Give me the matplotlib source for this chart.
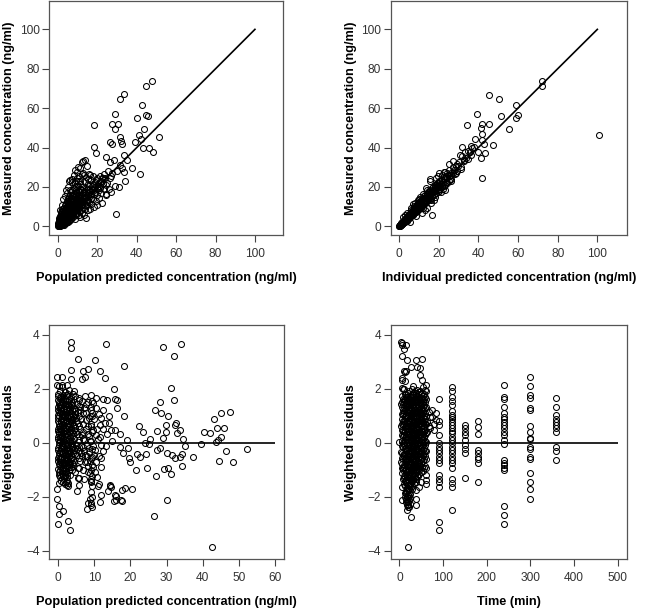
import numpy as np
import matplotlib
matplotlib.use('Agg')
import matplotlib.pyplot as plt
from matplotlib import rcParams
rcParams['font.family'] = 'sans-serif'
rcParams['font.sans-serif'] = ['Liberation Sans']

# population predicted vs measured concentration (ng/ml)
pop_pred_obs = [
    (47.5, 73.8), (44.5, 71.3), (33.7, 67.1), (31.6, 64.5), (42.8, 61.8), (28.8, 56.9), (44.5, 56.4),
    (45.5, 56.1), (39.9, 55.2), (18.3, 51.2), (27.4, 52.2), (30.6, 52.2), (29.1, 49.5), (43.7, 49.5),
    (51.4, 45.6), (31.6, 45.1), (31.8, 43.4), (41.3, 46.5), (42.3, 44.3), (32.3, 41.9), (26.2, 42.6),
    (27.4, 41.7), (39.1, 42.6), (18.1, 40.4), (19.4, 37.0), (43.3, 39.7), (46.0, 39.7), (48.1, 37.5),
    (37.4, 29.6), (41.6, 26.5), (29.4, 6.4), (34.2, 23.1), (33.4, 36.1), (34.9, 33.8), (12.9, 33.3),
    (12.0, 32.6), (10.0, 29.9), (24.4, 35.0), (26.4, 32.9), (28.6, 33.8), (23.0, 24.5), (31.0, 19.9),
    (28.9, 20.3), (24.4, 16.2), (21.3, 19.4), (26.4, 24.5), (27.6, 27.0), (31.5, 31.3), (32.3, 29.6),
    (33.5, 27.4), (29.8, 27.9), (21.1, 25.3), (16.2, 26.2), (12.5, 27.0), (8.6, 28.7), (6.3, 23.6),
    (9.1, 23.1),
    (0.1, 0.2), (0.2, 0.5), (0.3, 0.9), (0.4, 0.3), (0.5, 1.2), (0.6, 0.6), (0.7, 1.8), (0.8, 0.4),
    (0.9, 2.4), (1.0, 1.0), (1.1, 1.5), (1.2, 3.0), (1.3, 0.8), (1.4, 2.0), (1.5, 3.6), (1.6, 1.2),
    (1.7, 2.6), (1.8, 4.2), (1.9, 0.9), (2.0, 1.8), (2.1, 3.2), (2.2, 4.8), (2.3, 2.2), (2.4, 1.4),
    (2.5, 3.9), (2.6, 5.5), (2.7, 2.8), (2.8, 1.9), (2.9, 4.5), (3.0, 6.2), (3.1, 3.3), (3.2, 2.4),
    (3.3, 5.0), (3.4, 7.0), (3.5, 3.8), (3.6, 2.8), (3.7, 5.8), (3.8, 7.8), (3.9, 4.4), (4.0, 3.2),
    (4.2, 6.5), (4.4, 8.6), (4.5, 5.0), (4.6, 3.7), (4.8, 7.2), (5.0, 9.5), (5.1, 5.6), (5.2, 4.2),
    (5.4, 8.0), (5.5, 10.4), (5.6, 6.3), (5.8, 4.8), (6.0, 8.8), (6.1, 11.3), (6.2, 7.0), (6.4, 5.4),
    (6.5, 9.6), (6.7, 12.2), (6.8, 7.7), (7.0, 6.0), (7.1, 10.4), (7.3, 13.1), (7.4, 8.4), (7.6, 6.6),
    (7.7, 11.2), (7.9, 14.0), (8.0, 9.1), (8.2, 7.2), (8.3, 12.0), (8.5, 15.0), (8.6, 9.8), (8.8, 7.8),
    (9.0, 12.8), (9.1, 16.0), (9.2, 10.5), (9.4, 8.4), (9.6, 13.6), (9.8, 17.0), (9.9, 11.2), (10.0, 9.0),
    (10.3, 14.4), (10.5, 18.0), (10.6, 12.0), (10.8, 9.6), (11.0, 15.2), (11.2, 19.0), (11.3, 12.8),
    (11.5, 10.2), (11.8, 16.0), (12.0, 20.0), (12.1, 13.6), (12.3, 10.8), (12.6, 17.0), (12.8, 14.4),
    (0.5, 4.0), (1.0, 5.2), (1.5, 6.5), (2.0, 7.5), (2.5, 8.6), (3.0, 9.5), (3.5, 10.6), (4.0, 12.0),
    (4.5, 13.0), (5.0, 14.0), (5.5, 15.2), (6.0, 16.0), (6.5, 17.2), (7.0, 18.5), (3.5, 15.2), (4.5, 17.0),
    (5.5, 22.8), (6.0, 18.5), (7.0, 24.0), (8.0, 19.5), (8.5, 22.0), (9.0, 20.5), (9.5, 24.5), (10.0, 23.0),
    (11.0, 21.5), (12.0, 26.5), (13.0, 26.2), (13.5, 22.8), (14.0, 25.0), (15.0, 21.5), (15.5, 24.0),
    (16.0, 26.5), (17.0, 23.5), (17.5, 20.5), (18.0, 25.5), (19.0, 22.5), (20.0, 24.5), (21.0, 20.5),
    (22.0, 23.0), (23.0, 21.5), (24.0, 24.5), (25.0, 22.0), (13.0, 18.0), (14.0, 19.5), (15.0, 17.0),
    (16.0, 18.5), (17.0, 16.5), (18.0, 19.0), (19.0, 17.5), (20.0, 16.0), (21.0, 18.5), (22.0, 17.0),
    (14.0, 15.0), (15.5, 13.5), (16.5, 15.5), (18.0, 14.0), (19.5, 13.0), (21.0, 14.5), (17.0, 11.5),
    (18.5, 10.0), (20.0, 11.0), (16.0, 12.5), (14.5, 11.0), (13.5, 9.0), (15.0, 8.5), (12.0, 7.0),
    (10.5, 6.0), (9.0, 5.5), (7.5, 4.5), (6.0, 3.0), (5.0, 2.2), (4.0, 1.5), (3.0, 0.9), (13.0, 5.5),
    (14.0, 4.2), (11.0, 4.5), (8.5, 3.5), (16.5, 9.0), (22.5, 12.0), (24.5, 16.0), (26.0, 19.0),
    (27.0, 17.5), (25.5, 28.0), (27.0, 25.5), (23.5, 26.5), (14.5, 30.5), (13.5, 33.5), (11.0, 29.5),
    (8.0, 26.0), (9.5, 27.5), (10.5, 25.5), (7.0, 22.5), (5.0, 20.0), (4.0, 18.5), (2.5, 14.0),
    (2.0, 11.0), (1.0, 8.5),
    (0.3, 0.5), (0.6, 1.4), (0.9, 0.9), (1.2, 2.2), (1.5, 1.6), (1.8, 2.9), (2.1, 2.2), (2.4, 3.5),
    (2.7, 4.1), (3.0, 3.0), (3.3, 4.4), (3.6, 5.2), (3.9, 3.9), (4.2, 5.6), (4.5, 6.6), (4.8, 5.0),
    (5.1, 7.0), (5.4, 6.0), (5.7, 8.4), (6.0, 7.2), (6.3, 9.1), (6.6, 8.2), (6.9, 10.0), (7.2, 9.2),
    (7.5, 7.5), (7.8, 10.5), (8.1, 11.2), (8.4, 8.8), (8.7, 12.6), (9.0, 10.8), (9.3, 14.0), (9.6, 9.9),
    (9.9, 13.1), (10.2, 11.4), (10.5, 16.1), (10.8, 13.2), (11.1, 17.2), (11.4, 14.3), (11.7, 11.9),
    (12.0, 15.5), (12.4, 18.5), (12.8, 12.5), (13.2, 16.0), (13.6, 14.0), (14.0, 17.5), (14.5, 13.0),
    (15.0, 19.0), (15.5, 16.0), (16.0, 20.5), (16.5, 17.5), (17.0, 14.0), (17.5, 18.5), (18.0, 21.5),
    (18.5, 16.5), (19.0, 20.0), (19.5, 23.5), (20.0, 19.5), (20.5, 21.5), (21.5, 22.5), (22.5, 24.5),
    (23.5, 19.0), (24.5, 21.0), (2.0, 6.0), (3.0, 7.8), (4.0, 9.8), (5.0, 11.8), (6.0, 13.5), (7.0, 15.5),
    (8.0, 17.0), (9.0, 18.5), (10.0, 20.5), (11.0, 23.0), (1.5, 0.5), (2.5, 0.8), (3.5, 1.5), (4.5, 2.0),
    (5.5, 2.8), (6.5, 3.6), (7.5, 5.5), (8.5, 6.2), (9.5, 7.0), (10.5, 7.8), (11.5, 8.5), (12.5, 9.2),
    (13.5, 11.0), (14.5, 12.5), (0.2, 1.5), (0.4, 2.6), (0.6, 3.2), (0.8, 0.2), (1.1, 4.0), (1.3, 6.0),
    (2.2, 9.0), (1.7, 7.5),
    (0.5, 0.9), (1.0, 1.8), (1.5, 2.4), (2.0, 3.0), (2.5, 3.4), (3.0, 4.0), (3.5, 4.8), (4.0, 5.5),
    (4.5, 6.0), (5.0, 6.8), (5.5, 7.5), (6.0, 8.2), (6.5, 8.8), (7.0, 9.5), (7.5, 10.2), (8.0, 10.8),
    (8.5, 11.5), (9.0, 12.0), (9.5, 12.5), (10.0, 13.5), (0.7, 0.2), (1.2, 0.6), (1.7, 1.0), (2.2, 1.2),
    (2.7, 1.8), (3.2, 2.0), (3.7, 2.3), (4.2, 2.6), (4.7, 3.0), (5.2, 3.6), (5.7, 4.0), (6.2, 4.5),
    (6.7, 5.0), (7.2, 5.5), (7.7, 6.0), (1.0, 3.4), (1.5, 4.6), (2.0, 5.4), (2.5, 6.4), (3.0, 7.0),
    (3.5, 8.2), (4.0, 8.8), (4.5, 10.0), (5.0, 10.8), (5.5, 12.0), (6.0, 12.8), (6.5, 14.0), (7.0, 14.5),
    (7.5, 16.0), (8.0, 14.8), (4.3, 4.3), (5.3, 5.2), (6.3, 6.3), (7.3, 7.0), (8.3, 8.0), (9.3, 9.0),
    (10.3, 10.5), (11.3, 11.2), (12.3, 12.3),
]

# individual predicted vs measured concentration (ng/ml)
ind_pred_obs = [
    (72.1, 73.8), (72.3, 71.3), (101.0, 46.3), (58.8, 61.7), (60.2, 56.4), (58.8, 55.2), (51.6, 55.9),
    (50.4, 64.4), (45.4, 66.9), (39.2, 56.9), (34.5, 51.2), (45.4, 52.0), (41.8, 52.0), (41.5, 49.7),
    (55.5, 49.2), (42.0, 46.8), (41.8, 43.9), (38.2, 44.3), (36.5, 41.0), (47.2, 41.4), (43.0, 41.9),
    (40.0, 37.5), (43.3, 37.0), (41.3, 34.6), (41.8, 24.3), (27.4, 33.3), (31.9, 40.5), (33.4, 37.5),
    (30.9, 36.3), (29.2, 31.9), (25.2, 31.8), (22.5, 27.4), (20.2, 27.0), (15.6, 24.2), (16.8, 5.9),
    (36.1, 36.0), (35.0, 34.1), (32.6, 33.8), (28.7, 30.4), (31.3, 29.1), (27.1, 27.0), (23.7, 25.3),
    (26.1, 22.8), (21.8, 23.6), (18.7, 21.1), (23.4, 18.6), (19.8, 18.2),
    (0.1, 0.1), (0.2, 0.4), (0.3, 0.2), (0.4, 0.6), (0.5, 0.3), (0.6, 0.9), (0.7, 0.5), (0.8, 1.1),
    (0.9, 0.7), (1.0, 1.3), (1.1, 0.9), (1.2, 1.5), (1.3, 1.0), (1.4, 1.8), (1.5, 1.2), (1.6, 2.0),
    (1.7, 1.4), (1.8, 2.3), (1.9, 1.6), (2.0, 2.5), (2.2, 1.8), (2.3, 2.9), (2.5, 2.1), (2.6, 3.2),
    (2.8, 2.4), (2.9, 3.5), (3.0, 2.6), (3.2, 3.8), (3.3, 2.9), (3.5, 4.2), (3.6, 3.1), (3.8, 4.5),
    (3.9, 3.4), (4.1, 4.9), (4.2, 3.6), (4.4, 5.2), (4.5, 3.9), (4.7, 5.6), (4.8, 4.2), (5.0, 6.0),
    (5.1, 4.4), (5.3, 6.3), (5.4, 4.7), (5.6, 6.7), (5.7, 5.0), (5.9, 7.0), (6.0, 5.2), (6.2, 7.4),
    (6.3, 5.5), (6.5, 7.8), (6.6, 5.8), (6.8, 8.1), (6.9, 6.0), (7.1, 8.5), (7.2, 6.3), (7.4, 8.9),
    (7.5, 6.6), (7.7, 9.2), (7.8, 6.8), (8.0, 9.6), (8.1, 7.1), (8.3, 10.0), (8.4, 7.4), (8.6, 10.3),
    (8.7, 7.6), (8.9, 10.7), (9.0, 7.9), (9.2, 11.0), (9.3, 8.2), (9.5, 11.4), (9.6, 8.5), (9.8, 11.8),
    (10.0, 8.8), (10.2, 12.2), (10.4, 9.2), (10.6, 12.7), (10.8, 9.6), (11.0, 13.1), (11.2, 10.0),
    (11.4, 13.6), (11.6, 10.4), (11.8, 14.0), (12.0, 10.8), (12.3, 14.6), (12.5, 11.3), (12.8, 15.2),
    (13.0, 11.8), (13.3, 15.8), (13.6, 12.3), (13.9, 16.5), (14.2, 12.8), (14.5, 17.2), (14.8, 13.4),
    (15.1, 17.8), (15.4, 14.0), (15.7, 18.5), (16.0, 14.6), (16.4, 19.3), (16.8, 15.3), (17.2, 20.2),
    (17.6, 16.0), (18.0, 21.0), (18.5, 16.8), (19.0, 22.0), (19.5, 17.6), (20.0, 23.0),
    (2.0, 2.0), (3.0, 3.1), (4.0, 4.0), (5.0, 5.1), (6.0, 6.2), (7.0, 7.0), (8.0, 8.1), (9.0, 9.2),
    (10.0, 10.3), (11.0, 11.2), (12.0, 12.5), (13.0, 13.4), (14.0, 14.6), (15.0, 15.5), (16.0, 16.8),
    (17.0, 17.6), (18.0, 18.5), (19.0, 19.8), (20.0, 20.4), (21.0, 21.5), (22.0, 22.3), (23.0, 23.8),
    (24.0, 24.5), (25.0, 25.6), (26.0, 26.2),
    (3.0, 6.0), (5.5, 2.3), (7.0, 11.5), (8.5, 5.0), (10.5, 15.0), (11.5, 7.0), (13.5, 19.5), (14.0, 9.5),
    (15.5, 23.0), (16.0, 11.8), (17.5, 13.2), (18.5, 24.5), (19.5, 25.5), (20.5, 19.0), (21.5, 26.0),
    (22.5, 20.5), (23.0, 27.5), (24.0, 22.0), (25.0, 28.5), (26.0, 24.0), (27.0, 30.0), (28.0, 26.5),
    (29.0, 28.0), (30.0, 32.5), (31.0, 30.0), (32.0, 35.5), (33.0, 33.0), (34.0, 34.5), (35.0, 38.0),
    (36.0, 37.5), (37.0, 40.0), (38.0, 40.5), (21.0, 17.5), (22.0, 18.8), (23.0, 21.0), (24.0, 27.0),
    (25.0, 23.0), (18.0, 19.8), (20.0, 18.0), (7.5, 10.5), (9.5, 13.5), (12.0, 16.5), (4.0, 7.0),
    (6.0, 9.5), (2.0, 4.5), (13.0, 8.5),
    (0.5, 0.6), (1.0, 0.8), (1.5, 1.7), (2.0, 1.5), (2.5, 2.8), (3.0, 3.5), (3.5, 3.3), (4.0, 4.6),
    (4.5, 4.3), (5.0, 5.5), (5.5, 5.2), (6.0, 6.6), (6.5, 6.3), (7.0, 7.6), (7.5, 7.3), (8.0, 8.7),
    (8.5, 8.3), (9.0, 9.8), (9.5, 9.3), (10.0, 10.9), (10.5, 10.2), (11.0, 11.9), (11.5, 11.4),
    (12.0, 13.1), (12.5, 12.4), (13.0, 14.2), (13.5, 13.6), (14.0, 15.2), (14.5, 14.8), (15.0, 16.4),
    (15.5, 15.9), (16.0, 17.5), (16.5, 16.9), (17.0, 18.6), (17.5, 18.0), (18.0, 19.8), (18.5, 19.2),
    (19.0, 20.8), (19.5, 20.2), (20.0, 21.8), (20.5, 21.0), (21.5, 20.5), (22.5, 24.5), (23.5, 22.5),
    (24.5, 26.0), (25.5, 24.0), (26.5, 27.5), (27.5, 28.5), (28.5, 27.0), (29.5, 30.5), (8.0, 12.0),
    (10.0, 14.0), (12.0, 9.5), (14.0, 18.5), (16.0, 13.5), (18.0, 15.0), (6.0, 8.5), (4.0, 2.5),
]

# population predicted concentration vs weighted residuals
pop_pred_wres = [
    (13.2, 3.64), (29.1, 3.54), (34.1, 3.64), (32.1, 3.22), (18.3, 2.83), (31.1, 2.04), (32.1, 1.60),
    (28.2, 1.52), (26.8, 1.21), (28.4, 1.11), (30.5, 1.00), (44.9, 1.09), (47.5, 1.12), (43.2, 0.88),
    (45.9, 0.54), (44.0, 0.56), (40.4, 0.38), (41.9, 0.35), (44.9, 0.21), (44.1, 0.10), (43.7, 0.01),
    (39.6, -0.05), (52.1, -0.22), (46.4, -0.32), (48.3, -0.73), (44.5, -0.67), (37.2, -0.54),
    (34.2, -0.86), (34.3, -0.41), (35.0, -0.11), (34.6, 0.12), (32.9, 0.35), (32.2, 0.67), (32.7, 0.72),
    (33.6, 0.47), (29.7, 0.65), (29.7, 0.40), (28.9, 0.19), (27.3, 0.43), (25.4, 0.12), (25.0, -0.05),
    (24.0, 0.00), (22.5, 0.62), (23.6, 0.41), (27.4, -0.27), (28.2, -0.21), (30.0, -0.40), (31.4, -0.46),
    (32.3, -0.58), (33.7, -0.52), (29.4, -0.99), (30.3, -0.93), (31.3, -1.17), (27.1, -1.22),
    (24.5, -0.94), (21.4, -1.02), (22.6, -0.52), (21.7, -0.42), (24.3, -0.42), (30.0, -2.12),
    (26.4, -2.73), (42.5, -3.85), (20.3, -1.73), (18.5, -1.69), (17.7, -1.77), (17.6, -2.15),
    (16.1, -1.96), (15.6, -2.17), (14.4, -1.60), (13.7, -1.78), (11.8, -1.94), (11.6, -2.19),
    (20.0, -0.73), (19.7, -0.58), (18.0, -0.40), (19.4, -0.21), (17.1, -0.15), (19.0, 0.10),
    (17.1, 0.32), (15.7, 0.47), (18.3, 1.00), (16.3, 1.27), (15.5, 1.99), (15.7, 1.63), (16.2, 1.58),
    (14.0, 0.74), (14.1, 0.99), (13.4, 1.58), (12.3, 1.62), (13.0, 2.38), (11.7, 2.67), (10.2, 3.05),
    (5.6, 3.09), (6.8, 2.67), (8.2, 2.73), (7.5, 2.44), (6.7, 2.36), (3.5, 3.72), (3.6, 3.52),
    (3.7, 2.69), (3.5, 2.35), (-0.4, 2.43), (1.2, 2.43), (1.1, 2.15), (-0.3, 2.14), (1.9, 1.86),
    (3.2, -3.23), (2.7, -2.90), (0.1, -3.01), (0.4, -2.64), (1.4, -2.53), (0.4, -2.35), (-0.2, -2.07),
    (-0.4, -1.73), (5.3, -1.79), (2.6, -1.42), (2.0, -1.20), (8.4, -2.25), (8.1, -2.47), (8.8, -2.07),
    (9.2, -2.31), (16.0, -2.14), (17.5, -2.14), (15.8, -1.94), (14.4, -1.57), (14.6, -1.63),
    (0.2, 2.10), (1.0, 2.05), (2.4, 2.12), (0.5, 1.92), (1.8, 1.88), (3.0, 1.95), (4.5, 1.90),
    (0.1, 1.72), (0.9, 1.68), (2.2, 1.75), (3.6, 1.70), (5.8, 1.66), (7.5, 1.72),
    (0.4, 1.52), (1.4, 1.48), (2.6, 1.55), (4.0, 1.50), (5.2, 1.45), (6.5, 1.53), (8.3, 1.50), (9.6, 1.46),
    (0.0, 1.32), (0.8, 1.28), (1.9, 1.35), (3.1, 1.30), (4.4, 1.26), (6.0, 1.33), (7.2, 1.29), (9.0, 1.31),
    (10.5, 1.27), (0.3, 1.12), (1.2, 1.08), (2.3, 1.14), (3.5, 1.10), (4.8, 1.06), (5.5, 1.13), (7.8, 1.09),
    (9.4, 1.11), (11.2, 1.07), (0.1, 0.92), (0.7, 0.88), (1.6, 0.94), (2.8, 0.90), (3.9, 0.86), (5.0, 0.93),
    (6.3, 0.89), (8.5, 0.91), (10.0, 0.87), (12.0, 0.93), (0.4, 0.72), (1.1, 0.68), (2.0, 0.74), (3.2, 0.70),
    (4.3, 0.66), (5.6, 0.73), (7.0, 0.69), (9.1, 0.71), (11.5, 0.67), (13.0, 0.72), (0.0, 0.52), (0.8, 0.48),
    (1.5, 0.54), (2.5, 0.50), (3.6, 0.46), (4.7, 0.53), (6.1, 0.49), (7.6, 0.51), (9.8, 0.47), (12.5, 0.52),
    (14.5, 0.48), (0.3, 0.32), (1.0, 0.28), (1.9, 0.34), (2.9, 0.30), (4.0, 0.26), (5.3, 0.33), (6.6, 0.29),
    (8.2, 0.31), (10.4, 0.27), (13.6, 0.33), (0.1, 0.12), (0.6, 0.08), (1.4, 0.14), (2.3, 0.10), (3.3, 0.06),
    (4.5, 0.13), (5.8, 0.09), (7.3, 0.11), (8.9, 0.07), (11.0, 0.12), (15.0, 0.08), (0.4, -0.08),
    (1.1, -0.12), (2.0, -0.06), (2.8, -0.10), (3.8, -0.14), (5.0, -0.07), (6.4, -0.11), (7.9, -0.09),
    (9.6, -0.13), (11.8, -0.08), (13.2, -0.12), (0.0, -0.28), (0.8, -0.32), (1.6, -0.26), (2.5, -0.30),
    (3.4, -0.34), (4.4, -0.27), (5.7, -0.31), (7.1, -0.29), (8.6, -0.33), (10.3, -0.28), (12.4, -0.32),
    (0.3, -0.48), (1.2, -0.52), (2.1, -0.46), (3.0, -0.50), (4.0, -0.54), (5.2, -0.47), (6.5, -0.51),
    (8.0, -0.49), (9.5, -0.53), (11.2, -0.48), (0.1, -0.68), (0.9, -0.72), (1.8, -0.66), (2.7, -0.70),
    (3.8, -0.74), (6.0, -0.67), (7.4, -0.71), (8.9, -0.69), (10.6, -0.73), (0.5, -0.88), (1.4, -0.92),
    (2.4, -0.86), (3.5, -0.90), (5.6, -0.94), (8.2, -0.87), (9.7, -0.91), (11.8, -0.89), (0.2, -1.08),
    (1.0, -1.12), (2.0, -1.06), (4.8, -1.10), (8.8, -1.14), (10.2, -1.07), (0.6, -1.28), (1.6, -1.32),
    (2.6, -1.26), (5.4, -1.30), (9.2, -1.34), (10.8, -1.27), (0.3, -1.48), (1.5, -1.44), (2.9, -1.50),
    (9.0, -1.46), (11.3, -1.52),
    (0.6, 1.40), (1.6, 1.20), (2.6, 1.00), (3.6, 0.80), (0.2, 0.60), (1.3, 0.40), (2.4, 0.20), (3.5, 0.00),
    (0.7, -0.20), (1.8, -0.40), (2.9, -0.60), (4.1, -0.80), (0.5, -1.00), (1.5, 1.60), (2.7, 1.40),
    (3.9, 1.20), (0.4, 1.00), (1.5, 0.80), (2.6, 0.60), (3.8, 0.40), (0.5, 0.20), (1.7, 0.00), (2.9, -0.20),
    (4.2, -0.40), (0.6, -0.60), (1.7, -0.80), (3.0, -1.00), (4.4, 0.95), (4.9, 0.40), (5.2, -0.25),
    (6.8, 0.15), (7.5, -0.45), (6.9, 1.10), (8.4, 0.60), (8.6, -0.20),
    (9.2, 1.78), (9.3, 1.55), (9.1, 1.20), (9.3, 0.98), (9.2, 0.62), (9.4, 0.38), (9.2, 0.05), (9.3, -0.22),
    (9.1, -0.55), (9.3, -0.82), (9.2, -1.02), (9.4, -1.22), (9.2, -1.42), (9.3, -1.62), (9.1, -1.82),
    (9.3, -2.02), (9.1, -2.22), (9.3, -2.38), (5.8, 1.58), (5.7, 1.35), (5.9, 0.98), (5.8, 0.62),
    (5.7, 0.25), (5.9, -0.15), (5.8, -0.55), (5.7, -0.95), (5.9, -1.30), (5.8, -1.55), (2.1, -1.45),
    (2.4, -1.55), (2.7, -1.62), (1.9, -1.25),
    (0.1, 1.82), (0.7, 1.62), (1.3, 1.78), (2.0, 1.62), (2.9, 1.82), (3.7, 1.55), (4.6, 1.72),
    (0.2, 1.42), (0.9, 1.18), (1.8, 1.42), (2.2, 1.25), (3.0, 1.18), (3.8, 1.38), (4.6, 1.16),
    (0.1, 1.02), (0.9, 0.78), (1.9, 1.02), (2.3, 0.82), (3.1, 0.98), (4.0, 0.72), (4.9, 0.82),
    (0.2, 0.40), (0.6, 0.62), (1.2, 0.22), (2.0, 0.42), (2.8, 0.72), (3.3, 0.38), (4.4, 0.48),
    (0.3, 0.02), (0.9, -0.18), (1.5, -0.02), (2.2, -0.22), (3.0, 0.14), (3.9, -0.02), (4.7, -0.18),
    (0.2, -0.38), (0.6, -0.58), (1.3, -0.38), (2.1, -0.62), (2.9, -0.40), (3.6, -0.62), (4.6, -0.42),
    (0.3, -0.78), (1.0, -0.98), (1.6, -0.62), (2.2, -0.82), (3.1, -0.80), (3.9, -1.00), (4.5, -0.70),
    (0.4, -1.18), (1.3, -1.22), (2.3, -1.08), (3.2, -1.20), (0.8, -1.42), (1.9, -1.52),
    (6.2, 1.20), (7.0, 0.40), (7.7, 0.85), (8.0, -0.70), (6.8, -1.00), (7.2, -1.35), (8.3, -1.10),
    (6.3, -0.40), (7.8, 1.45), (8.8, 1.00), (8.5, 0.25), (7.0, -0.15), (10.8, 0.50), (10.0, -0.45),
    (11.5, 0.20), (12.0, -0.55), (10.5, 1.65), (11.0, -1.60), (12.5, 1.20),
    (0.05, 1.60), (0.0, 1.22), (0.1, 0.82), (0.05, 0.42), (0.0, 0.22), (0.1, -0.18), (0.0, -0.58),
    (0.05, -0.98), (0.55, 1.70), (0.5, 1.30), (0.45, 1.10), (0.55, 0.50), (0.5, 0.10), (0.45, -0.30),
    (0.55, -0.70), (0.5, -1.15), (1.05, 1.50), (0.95, 1.40), (1.0, 1.00), (1.05, 0.60), (0.95, 0.40),
    (1.0, 0.00), (1.05, -0.40), (0.95, -0.60), (1.0, -0.80), (1.55, 1.65), (1.45, 1.25), (1.5, 1.05),
    (1.55, 0.65), (1.45, 0.35), (1.5, -0.15), (1.55, -0.55), (1.45, -0.75), (1.5, -1.05),
    (2.05, 1.45), (1.95, 1.15), (2.0, 0.95), (2.05, 0.55), (1.95, 0.25), (2.0, -0.35), (2.05, -0.75),
    (1.95, -0.95), (2.55, 1.75), (2.45, 1.25), (2.5, 0.85), (2.55, 0.35), (2.45, -0.05), (2.5, -0.45),
    (2.55, -0.65), (2.45, -1.15), (3.05, 1.60), (2.95, 1.40), (3.0, 0.80), (3.05, 0.60), (2.95, 0.40),
    (3.0, -0.30), (3.05, -0.70), (2.95, -0.90), (3.55, 1.45), (3.45, 1.25), (3.5, 0.95), (3.55, 0.55),
    (3.45, 0.20), (3.5, -0.10), (3.55, -0.45), (3.45, -0.75), (4.05, 1.80), (3.95, 1.05), (4.0, 0.85),
    (4.05, 0.35), (3.95, 0.05), (4.0, -0.25), (4.05, -0.65),
]

# sampling time (min) -> weighted residuals
wres_by_time = {
    0: [0.02],
    3: [3.74, 1.45, 0.62, -0.35, -0.70],
    5: [3.62, 3.21, 2.38, 2.01, 1.52, 1.08, 0.71, 0.28, -0.12, -0.55, -0.92, -1.14],
    7: [3.68, 2.32, 1.72, 1.31, 0.88, 0.46, 0.05, -0.38, -0.78, -2.12, -1.63],
    8: [1.45, 1.05, 0.65, 0.25, -0.15, -0.60, -1.00],
    9: [2.00, 1.62, 1.22, 0.82, 0.42, -0.02, -0.45, -0.95, -1.35],
    10: [3.47, 2.65, 1.98, 1.58, 1.18, 0.79, 0.41, -0.02, -0.43, -0.84, -1.22, -1.52],
    11: [1.50, 1.10, 0.70, 0.30, -0.10, -0.50, -0.90, -1.30],
    12: [2.62, 1.81, 1.39, 0.97, 0.58, 0.19, -0.23, -0.61, -1.03, -1.41, -1.88],
    13: [2.30, 1.62, 1.22, 0.82, 0.42, 0.02, -0.42, -0.82, -1.22, -1.62, -2.00],
    14: [1.48, 1.02, 0.62, 0.22, -0.18, -0.58, -0.98, -1.38],
    15: [3.62, 2.65, 1.68, 1.27, 0.91, 0.52, 0.12, -0.31, -0.69, -1.08, -1.47, -1.79, -2.08],
    16: [1.82, 1.42, 1.02, 0.62, 0.22, -0.18, -0.58, -0.98, -1.38, -1.85, -2.20],
    17: [3.06, 1.55, 1.12, 0.74, 0.33, -0.08, -0.49, -0.88, -1.28, -1.69, -2.01, -2.31, -2.49],
    18: [1.70, 1.32, 0.92, 0.52, 0.12, -0.28, -0.68, -1.08, -1.48, -1.80, -2.15],
    19: [1.63, 1.21, 0.82, 0.43, 0.03, -0.38, -0.79, -1.19, -1.58, -1.92, -2.21, -2.40, -3.85],
    20: [1.85, 1.40, 1.00, 0.60, 0.20, -0.20, -0.60, -1.00, -1.40, -1.75, -2.05, -2.30],
    21: [1.44, 1.03, 0.63, 0.22, -0.19, -0.59, -1.01, -1.38, -1.81, -2.12],
    22: [1.62, 1.22, 0.82, 0.42, 0.02, -0.40, -0.80, -1.20, -1.60, -1.98],
    23: [1.92, 1.50, 1.10, 0.70, 0.30, -0.10, -0.50, -0.90, -1.30, -1.70, -2.40],
    24: [1.72, 1.32, 0.93, 0.54, 0.14, -0.27, -0.68, -1.09, -1.52, -1.91, -2.28],
    25: [1.58, 1.18, 0.78, 0.38, -0.02, -0.42, -0.82, -1.22, -1.62, -2.05],
    26: [2.81, 1.48, 1.06, 0.67, 0.27, -0.12, -0.53, -0.93, -1.33, -2.74],
    27: [1.70, 1.30, 0.90, 0.50, 0.10, -0.30, -0.70, -1.10, -1.50],
    28: [1.98, 1.60, 1.20, 0.80, 0.40, 0.00, -0.40, -0.80, -1.20, -1.62],
    29: [1.81, 1.39, 1.01, 0.61, 0.18, -0.22, -0.63, -1.02, -1.42, -1.72],
    30: [1.75, 1.38, 0.98, 0.58, 0.18, -0.22, -0.62, -1.02, -1.40],
    31: [2.10, 1.59, 1.18, 0.78, 0.37, -0.03, -0.41, -0.82, -1.21],
    32: [1.85, 1.45, 1.05, 0.65, 0.25, -0.15, -0.55, -0.95, -1.35],
    33: [1.55, 1.15, 0.75, 0.35, -0.05, -0.45, -0.85, -1.25],
    34: [1.71, 1.29, 0.87, 0.48, 0.08, -0.33, -0.72, -1.12, -1.51],
    35: [1.90, 1.50, 1.10, 0.70, 0.30, -0.10, -0.50, -0.90, -1.30],
    36: [1.62, 1.22, 0.82, 0.42, 0.02, -0.38, -0.78, -1.18],
    37: [3.06, 1.52, 1.12, 0.69, 0.29, -0.11, -0.52, -0.91, -1.75],
    38: [1.72, 1.32, 0.92, 0.52, 0.12, -0.28, -0.68, -1.08, -1.45],
    39: [1.83, 1.41, 0.99, 0.59, 0.21, -0.19, -0.61, -0.98, -1.33, -2.10, -2.31],
    40: [1.95, 1.55, 1.15, 0.75, 0.35, -0.05, -0.45, -0.85, -1.22],
    41: [2.80, 1.62, 1.18, 0.79, 0.38, -0.01, -0.42, -0.81],
    42: [1.82, 1.42, 1.02, 0.62, 0.22, -0.18, -0.58, -0.98],
    43: [1.55, 1.15, 0.75, 0.35, -0.05, -0.45, -0.85, -1.25],
    44: [1.69, 1.31, 0.89, 0.51, 0.09, -0.31, -0.72, -1.03, -1.63],
    45: [1.88, 1.48, 1.08, 0.68, 0.28, -0.12, -0.52, -0.92],
    46: [1.62, 1.22, 0.82, 0.42, 0.02, -0.38, -0.78, -1.15],
    47: [2.75, 2.50, 1.49, 1.08, 0.71, 0.32, -0.09, -0.49],
    48: [1.90, 1.52, 1.12, 0.72, 0.32, -0.08, -0.48, -0.88],
    49: [1.79, 1.38, 0.98, 0.61, 0.19, -0.21, -0.62, -1.44],
    50: [1.65, 1.25, 0.85, 0.45, 0.05, -0.35, -0.75, -1.10],
    51: [1.85, 1.45, 1.05, 0.65, 0.25, -0.15, -0.55],
    52: [3.10, 2.32, 1.62, 1.21, 0.82, 0.41, 0.01, -0.39, -0.89],
    53: [1.72, 1.32, 0.92, 0.52, 0.12, -0.28, -0.68, -1.05],
    54: [2.05, 1.58, 1.18, 0.78, 0.38, -0.02, -0.42],
    55: [1.52, 1.11, 0.72, 0.31, -0.08, -0.45],
    56: [1.80, 1.40, 1.00, 0.60, 0.20, -0.20, -0.60, -0.95],
    57: [1.62, 1.22, 0.82, 0.42, 0.02, -0.38],
    58: [1.95, 1.68, 1.28, 0.88, 0.48, 0.08, -0.32],
    59: [1.50, 1.10, 0.70, 0.30, -0.10, -0.50, -0.85],
    60: [2.14, 1.92, 1.61, 1.31, 0.98, 0.68, 0.35, 0.02, -0.29, -0.62, -0.95, -1.18, -1.38, -1.52],
    63: [0.41, 0.78],
    68: [1.15, 0.62],
    71: [0.53, 0.95],
    75: [1.21, 0.96],
    79: [0.69, 0.48],
    83: [1.09, 0.84],
    90: [1.62, 0.81, 0.65, 0.28, -0.02, -0.15, -0.27, -0.40, -0.52, -0.64, -0.77, -1.20, -1.35, -1.47,
         -1.63, -2.93, -3.23],
    120: [2.07, 1.91, 1.70, 1.54, 1.40, 1.17, 1.02, 0.96, 0.86, 0.78, 0.65, 0.53, 0.43, 0.35, 0.22, 0.10,
          -0.02, -0.15, -0.27, -0.40, -0.52, -0.64, -0.77, -0.93, -1.35, -1.48, -1.64, -2.49],
    150: [0.65, 0.53, 0.41, 0.28, 0.10, -0.09, -0.25, -0.40, -1.32],
    180: [0.81, 0.57, 0.31, -0.27, -0.40, -0.52, -0.62, -0.74, -1.44],
    240: [2.12, 1.70, 1.62, 1.33, 1.09, 0.96, 0.86, 0.75, 0.65, 0.53, 0.41, 0.28, 0.10, -0.05, -0.64,
          -0.74, -0.83, -0.93, -1.01, -2.35, -2.68, -3.02],
    300: [2.42, 2.10, 1.77, 1.64, 1.27, 1.22, 0.63, 0.38, 0.16, 0.12, -0.15, -0.25, -0.52, -0.62, -1.14,
          -1.44, -1.73, -2.09],
    360: [1.64, 1.31, 1.02, 0.88, 0.78, 0.65, 0.53, 0.41, -0.15, -0.31, -0.64],
}

identity_line = [0, 100]
conc_ticks = [0, 20, 40, 60, 80, 100]
wres_ticks = [-4, -2, 0, 2, 4]
pred_ticks = [0, 10, 20, 30, 40, 50, 60]
time_ticks = [0, 100, 200, 300, 400, 500]

W, H = 650, 611


def frame(ax, xlim, ylim, xticks, yticks, xlabel, ylabel):
    ax.set_xlim(*xlim)
    ax.set_ylim(*ylim)
    ax.set_xticks(xticks)
    ax.set_yticks(yticks)
    ax.tick_params(direction='out', length=5, width=0.8, color='#444444',
                   labelsize=8.6, labelcolor='#333333')
    ax.tick_params(axis='x', pad=4.5)
    ax.tick_params(axis='y', pad=2)
    for s in ax.spines.values():
        s.set_color('#555555')
        s.set_linewidth(0.9)
    ax.set_xlabel(xlabel, fontsize=9.2, fontweight='bold', va='center')
    ax.set_ylabel(ylabel, fontsize=9.2, fontweight='bold', va='center')
    bb = ax.get_position()
    ax.xaxis.set_label_coords(0.5, -42.5 / (bb.height * H))
    ax.yaxis.set_label_coords(-40.0 / (bb.width * W), 0.5)


def points(ax, xy):
    xy = np.array(xy)
    ax.plot(xy[:, 0], xy[:, 1], 'o', mfc='none', mec='black', ms=4.3, mew=0.75)


fig = plt.figure(figsize=(W / 100, H / 100), dpi=100)

ax1 = fig.add_axes([49.3 / W, 1 - 235 / H, 234 / W, 234 / H])
points(ax1, pop_pred_obs)
ax1.plot(identity_line, identity_line, color='black', lw=1.2)
frame(ax1, (-4.4, 114.4), (-4.4, 114.4), conc_ticks, conc_ticks,
      'Population predicted concentration (ng/ml)', 'Measured concentration (ng/ml)')

ax2 = fig.add_axes([390.7 / W, 1 - 235 / H, 236 / W, 234 / H])
points(ax2, ind_pred_obs)
ax2.plot(identity_line, identity_line, color='black', lw=1.2)
frame(ax2, (-4.2, 114.8), (-4.4, 114.4), conc_ticks, conc_ticks,
      'Individual predicted concentration (ng/ml)', 'Measured concentration (ng/ml)')

ax3 = fig.add_axes([49.3 / W, 1 - 559.3 / H, 234.7 / W, 234.3 / H])
points(ax3, pop_pred_wres)
ax3.hlines(0, pred_ticks[0], pred_ticks[-1], color='black', lw=1.2)
frame(ax3, (-2.4, 62.4), (-4.32, 4.36), pred_ticks, wres_ticks,
      'Population predicted concentration (ng/ml)', 'Weighted residuals')

ax4 = fig.add_axes([390.7 / W, 1 - 559.3 / H, 236 / W, 234.3 / H])
time_wres = [(t, w) for t, ws in wres_by_time.items() for w in ws]
points(ax4, time_wres)
ax4.hlines(0, time_ticks[0], time_ticks[-1], color='black', lw=1.2)
frame(ax4, (-20, 521), (-4.32, 4.36), time_ticks, wres_ticks,
      'Time (min)', 'Weighted residuals')

fig.savefig('out.png', dpi=100)
